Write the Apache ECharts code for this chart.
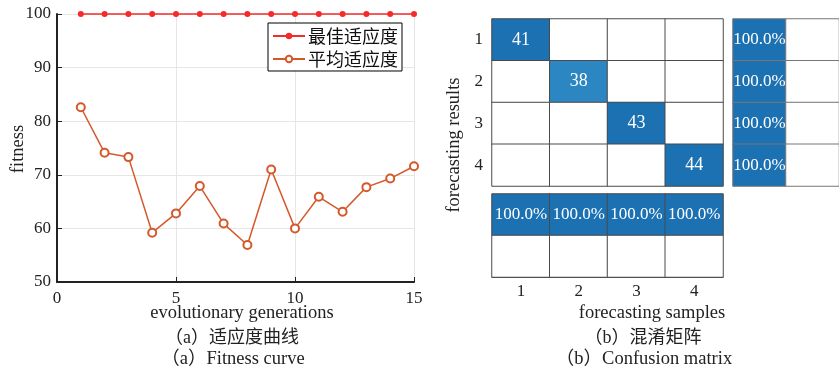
<!DOCTYPE html>
<html><head><meta charset="utf-8">
<script src="https://cdn.jsdelivr.net/npm/echarts@6/dist/echarts.min.js"></script>
<style>html,body{margin:0;padding:0;background:#fff}#c{width:839px;height:372px}</style>
</head><body><div id="c"></div>
<script>
const generations = [1,2,3,4,5,6,7,8,9,10,11,12,13,14,15];
const bestFitness = [100,100,100,100,100,100,100,100,100,100,100,100,100,100,100];
const avgFitness = [82.6,74.1,73.3,59.2,62.8,67.9,60.9,56.9,71.0,60.0,65.9,63.1,67.7,69.3,71.6];
const seriesNames = ['最佳适应度','平均适应度'];
const classLabels = ['1','2','3','4'];
const confusionCounts = [
  [41,0,0,0],
  [0,38,0,0],
  [0,0,43,0],
  [0,0,0,44]
];
const rowSummary = ['100.0%','100.0%','100.0%','100.0%'];
const colSummary = ['100.0%','100.0%','100.0%','100.0%'];

const SERIF = '"Liberation Serif","DejaVu Serif",serif';
const MIX = '"Liberation Serif","Noto Sans CJK SC",serif';
const BLUE = '#1c71b2', BLUE_L = '#2b86c1', CELLBORDER = '#4a4a4a';

const mainData = [];
confusionCounts.forEach((row, r) => row.forEach((v, c) => {
  mainData.push({value:[c, r, v], itemStyle:{color: v === 0 ? '#fff' : (v < 40 ? BLUE_L : BLUE)},
    label:{show: v > 0}});
}));
const rightData = [];
rowSummary.forEach((s, r) => {
  rightData.push({value:[0, r, parseFloat(s)], name:s, itemStyle:{color:BLUE}, label:{show:true}});
  rightData.push({value:[1, r, 0], name:'', itemStyle:{color:'#fff'}, label:{show:false}});
});
const bottomData = [];
colSummary.forEach((s, c) => {
  bottomData.push({value:[c, 0, parseFloat(s)], name:s, itemStyle:{color:BLUE}, label:{show:true}});
  bottomData.push({value:[c, 1, 0], name:'', itemStyle:{color:'#fff'}, label:{show:false}});
});

const hideAxis = {axisLine:{show:false}, axisTick:{show:false}, axisLabel:{show:false}, splitLine:{show:false}};

const chart = echarts.init(document.getElementById('c'), null, {renderer:'canvas'});
chart.setOption({
  animation:false,
  backgroundColor:'#fff',
  textStyle:{fontFamily:SERIF},
  grid:[
    {left:57, top:14, width:357, height:268},
    {left:492, top:19, width:231, height:167},
    {left:733, top:19, width:117, height:167},
    {left:492, top:194, width:231, height:83}
  ],
  legend:{
    gridIndex:0, orient:'vertical', left:268, top:23, data:seriesNames,
    borderColor:'#000', borderWidth:1, backgroundColor:'#fff', padding:[4,4,3,4],
    itemWidth:32, itemHeight:8, itemGap:5,
    textStyle:{fontFamily:'"Noto Sans CJK SC",sans-serif', fontSize:18, color:'#111', padding:[0,0,0,-2]}
  },
  xAxis:[
    {gridIndex:0, type:'value', min:0, max:15, interval:5,
      axisLine:{onZero:false, lineStyle:{color:'#222', width:2}},
      axisTick:{inside:true, length:5, lineStyle:{color:'#222'}},
      axisLabel:{fontFamily:SERIF, fontSize:17, color:'#222', margin:8},
      splitLine:{show:true, lineStyle:{color:'#e6e6e6'}}},
    {gridIndex:1, type:'category', data:classLabels, ...hideAxis},
    {gridIndex:2, type:'category', data:['p','q'], ...hideAxis},
    {gridIndex:3, type:'category', data:classLabels,
      axisLine:{show:true, lineStyle:{color:'#333'}}, axisTick:{show:false},
      axisLabel:{fontFamily:SERIF, fontSize:17, color:'#222', margin:6}, splitLine:{show:false}}
  ],
  yAxis:[
    {gridIndex:0, type:'value', min:50, max:100, interval:10,
      axisLine:{show:true, lineStyle:{color:'#222', width:2}},
      axisTick:{show:true, inside:true, length:5, lineStyle:{color:'#222'}},
      axisLabel:{fontFamily:SERIF, fontSize:17, color:'#222', margin:6},
      splitLine:{show:true, lineStyle:{color:'#e6e6e6'}}},
    {gridIndex:1, type:'category', data:classLabels, inverse:true,
      axisLine:{show:false}, axisTick:{show:false},
      axisLabel:{fontFamily:SERIF, fontSize:17, color:'#222', margin:9}, splitLine:{show:false}},
    {gridIndex:2, type:'category', data:classLabels, inverse:true, ...hideAxis},
    {gridIndex:3, type:'category', data:['p','q'], inverse:true, ...hideAxis}
  ],
  series:[
    {name:seriesNames[0], type:'line', xAxisIndex:0, yAxisIndex:0, clip:false,
      data:generations.map((g,i)=>[g,bestFitness[i]]),
      symbol:'circle', symbolSize:6, color:'#f52a2a',
      lineStyle:{width:1.5, color:'#f52a2a'}, itemStyle:{color:'#f52a2a'}},
    {name:seriesNames[1], type:'line', xAxisIndex:0, yAxisIndex:0, clip:false,
      data:generations.map((g,i)=>[g,avgFitness[i]]),
      symbol:'emptyCircle', symbolSize:8, color:'#d5582a',
      lineStyle:{width:1.5, color:'#d5582a'}, itemStyle:{color:'#d5582a', borderWidth:1.5}},
    {type:'heatmap', xAxisIndex:1, yAxisIndex:1, data:mainData,
      itemStyle:{borderColor:CELLBORDER, borderWidth:1},
      label:{color:'#fff', fontFamily:SERIF, fontSize:18, formatter:p=>String(p.value[2])},
      emphasis:{disabled:true}},
    {type:'heatmap', xAxisIndex:2, yAxisIndex:2, data:rightData,
      itemStyle:{borderColor:'#777', borderWidth:1},
      label:{color:'#fff', fontFamily:SERIF, fontSize:17, formatter:p=>p.name},
      emphasis:{disabled:true}},
    {type:'heatmap', xAxisIndex:3, yAxisIndex:3, data:bottomData,
      itemStyle:{borderColor:CELLBORDER, borderWidth:1},
      label:{color:'#fff', fontFamily:SERIF, fontSize:17, formatter:p=>p.name},
      emphasis:{disabled:true}}
  ],
  graphic:[
    {type:'text', x:18, y:149, rotation:Math.PI/2, style:{text:'fitness', font:'18.5px '+SERIF, fill:'#222', align:'center', verticalAlign:'middle'}},
    {type:'text', x:242, y:313, style:{text:'evolutionary generations', font:'18.5px '+SERIF, fill:'#222', align:'center', verticalAlign:'middle'}},
    {type:'text', x:232, y:338, style:{text:'（a）适应度曲线', font:'18px '+MIX, fill:'#222', align:'center', verticalAlign:'middle'}},
    {type:'text', x:233, y:359, style:{text:'（a）Fitness curve', font:'18.5px '+MIX, fill:'#222', align:'center', verticalAlign:'middle'}},
    {type:'text', x:454, y:145, rotation:Math.PI/2, style:{text:'forecasting results', font:'18.5px '+SERIF, fill:'#222', align:'center', verticalAlign:'middle'}},
    {type:'text', x:652, y:313, style:{text:'forecasting samples', font:'18.5px '+SERIF, fill:'#222', align:'center', verticalAlign:'middle'}},
    {type:'text', x:643, y:338, style:{text:'（b）混淆矩阵', font:'18px '+MIX, fill:'#222', align:'center', verticalAlign:'middle'}},
    {type:'text', x:644, y:359, style:{text:'（b）Confusion matrix', font:'18.5px '+MIX, fill:'#222', align:'center', verticalAlign:'middle'}}
  ]
});
</script></body></html>
